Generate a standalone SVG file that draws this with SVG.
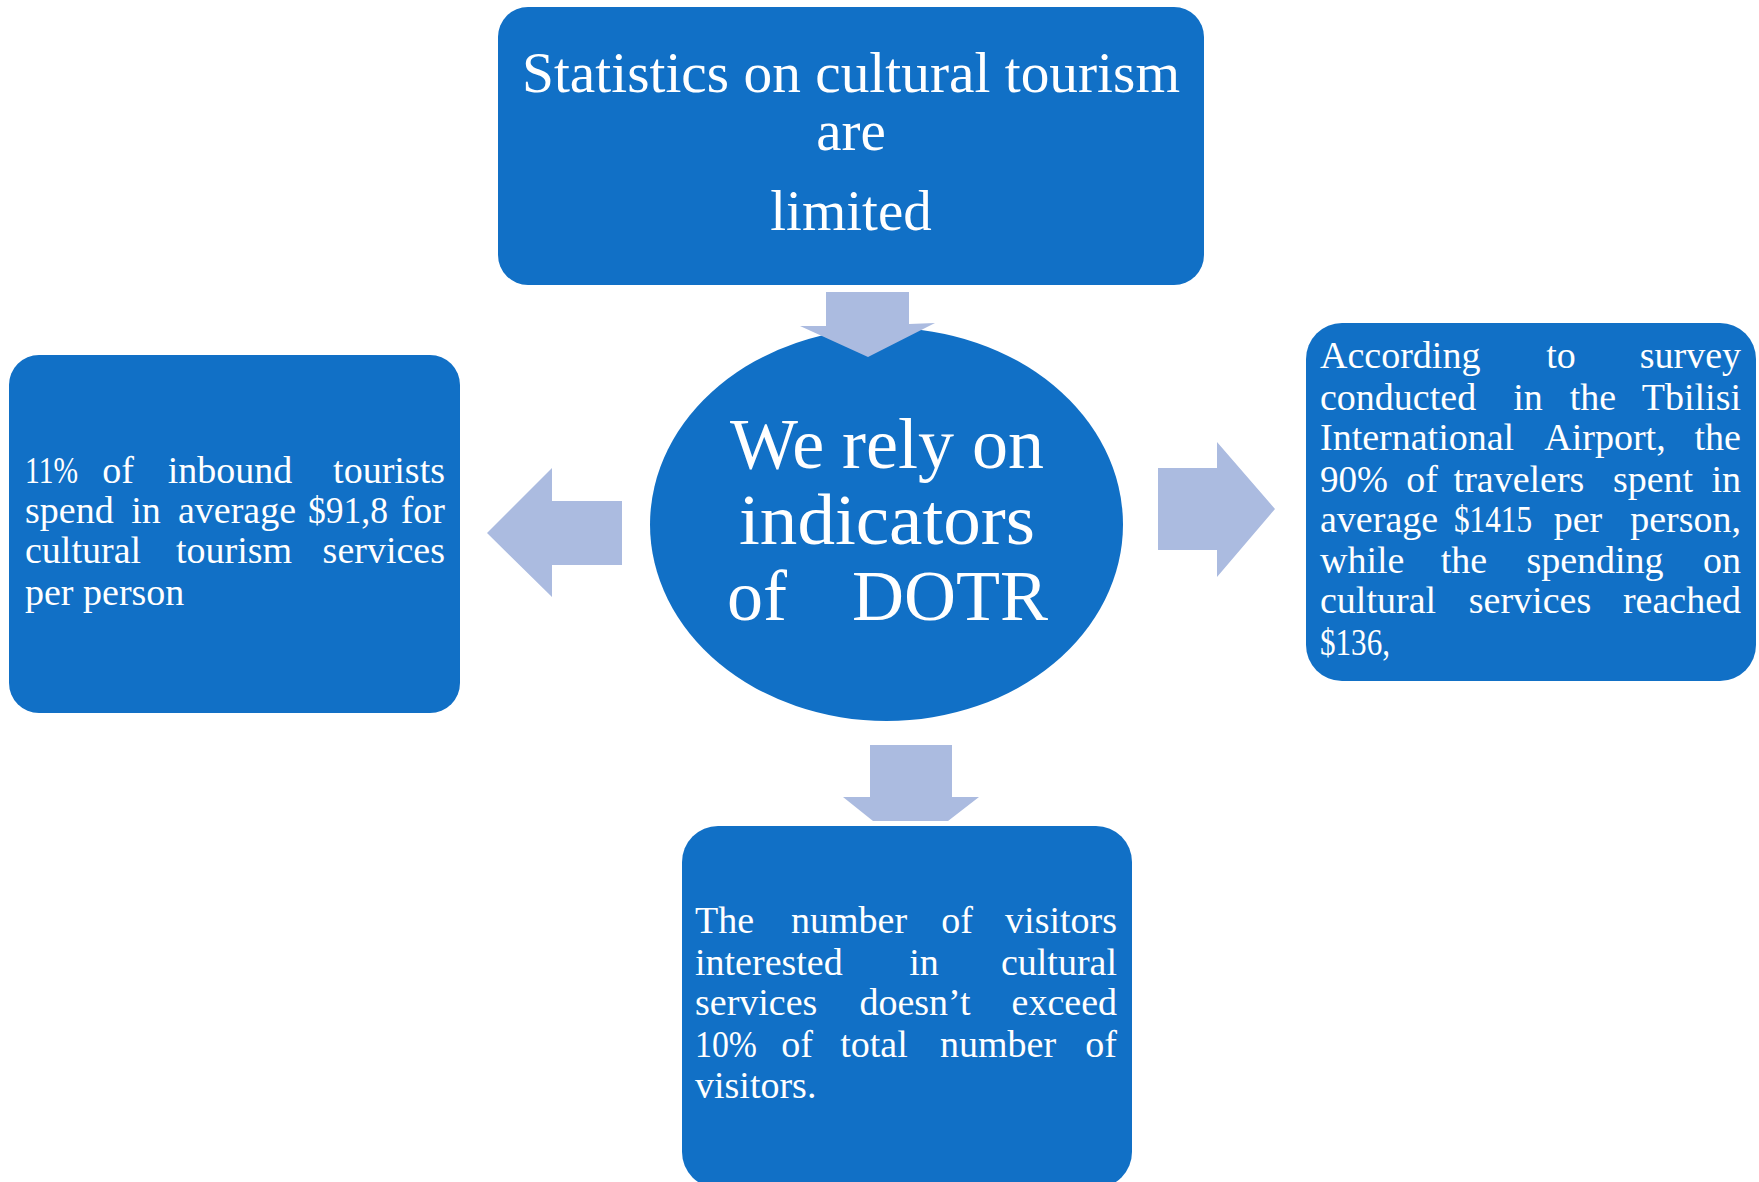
<svg xmlns="http://www.w3.org/2000/svg" width="1759" height="1182" viewBox="0 0 1759 1182">
  <style>
    .box { fill: #1170C6; }
    .arrow { fill: #ABBBE0; }
    text { fill: #FFFFFF; font-family: "Liberation Serif", "DejaVu Serif", serif; }
    .big { font-size: 57px; }
    .hub { font-size: 72px; }
    .body { font-size: 38px; }
    .m { text-anchor: middle; }
    .e { text-anchor: end; }
  </style>
  <rect width="1759" height="1182" fill="#FFFFFF"/>

  <g id="top-node">
    <rect class="box" x="498" y="7" width="706" height="278" rx="30" ry="30"/>
    <text class="big" x="522" y="92" textLength="658" lengthAdjust="spacingAndGlyphs">Statistics on cultural tourism</text>
    <text class="big m" x="851" y="150">are</text>
    <text class="big m" x="851" y="230">limited</text>
  </g>

  <g id="center-node">
    <ellipse class="box" cx="886.5" cy="524.5" rx="236.5" ry="196.5"/>
    <text class="hub" x="730" y="468" textLength="314" lengthAdjust="spacingAndGlyphs">We rely on</text>
    <text class="hub" x="739" y="544" textLength="296" lengthAdjust="spacingAndGlyphs">indicators</text>
    <text class="hub" x="727" y="620">of</text>
    <text class="hub e" x="1048" y="620">DOTR</text>
  </g>

  <g id="left-node">
    <rect class="box" x="9" y="355" width="451" height="358" rx="30" ry="30"/>
    <g class="body">
      <text x="25" y="483" textLength="53" lengthAdjust="spacingAndGlyphs">11%</text>
      <text class="m" x="118" y="483">of</text>
      <text class="m" x="230" y="483">inbound</text>
      <text class="e" x="445" y="483">tourists</text>

      <text x="25" y="523">spend</text>
      <text class="m" x="146" y="523">in</text>
      <text class="m" x="237" y="523">average</text>
      <text x="308" y="523" textLength="80" lengthAdjust="spacingAndGlyphs">$91,8</text>
      <text class="e" x="445" y="523">for</text>

      <text x="25" y="563">cultural</text>
      <text class="m" x="234" y="563">tourism</text>
      <text class="e" x="445" y="563">services</text>

      <text x="25" y="605">per person</text>
    </g>
  </g>

  <g id="right-node">
    <rect class="box" x="1306" y="323" width="450" height="358" rx="36" ry="36"/>
    <g class="body">
      <text x="1320" y="368">According</text>
      <text class="m" x="1561" y="368">to</text>
      <text class="e" x="1741" y="368">survey</text>

      <text x="1320" y="410">conducted</text>
      <text class="m" x="1528" y="410">in</text>
      <text class="m" x="1593" y="410">the</text>
      <text class="e" x="1741" y="410">Tbilisi</text>

      <text x="1320" y="450">International</text>
      <text class="m" x="1605" y="450">Airport,</text>
      <text class="e" x="1741" y="450">the</text>

      <text x="1320" y="492" textLength="68" lengthAdjust="spacingAndGlyphs">90%</text>
      <text class="m" x="1422" y="492">of</text>
      <text class="m" x="1519" y="492">travelers</text>
      <text class="m" x="1653" y="492">spent</text>
      <text class="e" x="1741" y="492">in</text>

      <text x="1320" y="532">average</text>
      <text x="1454" y="532" textLength="78" lengthAdjust="spacingAndGlyphs">$1415</text>
      <text class="m" x="1578" y="532">per</text>
      <text class="e" x="1741" y="532">person,</text>

      <text x="1320" y="573">while</text>
      <text class="m" x="1464" y="573">the</text>
      <text class="m" x="1595" y="573">spending</text>
      <text class="e" x="1741" y="573">on</text>

      <text x="1320" y="613">cultural</text>
      <text class="m" x="1530" y="613">services</text>
      <text class="e" x="1741" y="613">reached</text>

      <text x="1320" y="655" textLength="70" lengthAdjust="spacingAndGlyphs">$136,</text>
    </g>
  </g>

  <g id="bottom-node">
    <rect class="box" x="682" y="826" width="450" height="362" rx="36" ry="36"/>
    <g class="body">
      <text x="695" y="933">The</text>
      <text class="m" x="849" y="933">number</text>
      <text class="m" x="957" y="933">of</text>
      <text class="e" x="1117" y="933">visitors</text>

      <text x="695" y="975">interested</text>
      <text class="m" x="924" y="975">in</text>
      <text class="e" x="1117" y="975">cultural</text>

      <text x="695" y="1015">services</text>
      <text class="m" x="915" y="1015">doesn’t</text>
      <text class="e" x="1117" y="1015">exceed</text>

      <text x="695" y="1057" textLength="62" lengthAdjust="spacingAndGlyphs">10%</text>
      <text class="m" x="797" y="1057">of</text>
      <text class="m" x="874" y="1057">total</text>
      <text class="m" x="998" y="1057">number</text>
      <text class="e" x="1117" y="1057">of</text>

      <text x="695" y="1098">visitors.</text>
    </g>
  </g>

  <!-- block arrows, drawn over the shapes they touch -->
  <g id="connectors">
    <polygon class="arrow" points="826,292 909,292 909,324 935,323 868,357 800,326 826,326"/>
    <polygon class="arrow" points="622,501 622,565 552,565 552,597 487,533 552,468 552,501"/>
    <polygon class="arrow" points="1158,468 1217,468 1217,442 1275,509 1217,577 1217,550 1158,550"/>
    <polygon class="arrow" points="870,745 952,745 952,797 979,797 948,821 873,821 843,797 870,797"/>
  </g>
</svg>
